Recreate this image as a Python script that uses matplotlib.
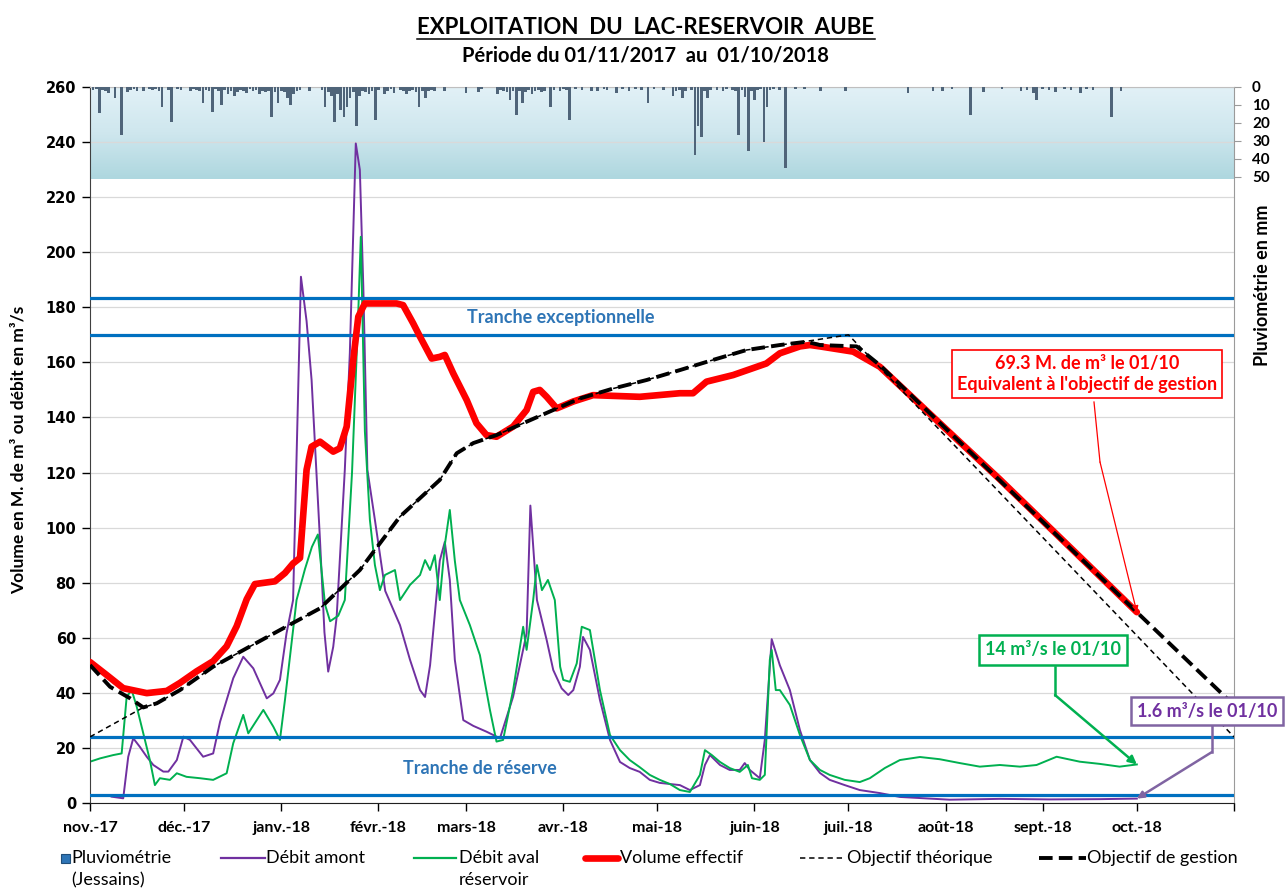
import numpy as np
import pandas as pd
import matplotlib
matplotlib.use("Agg")
import matplotlib.pyplot as plt
from matplotlib.lines import Line2D
from matplotlib.patches import Rectangle
from matplotlib.colors import LinearSegmentedColormap
import matplotlib.dates as mdates

plt.rcParams['font.family'] = ['Lato', 'DejaVu Sans']

debut = pd.Timestamp("2017-11-01")
fin = pd.Timestamp("2018-11-01")

# valeurs au 01/10 (jour 334)
volume_01_10 = 69.3
aval_01_10 = 14
amont_01_10 = 1.6

mois_labels = ["nov.-17", "déc.-17", "janv.-18", "févr.-18", "mars-18", "avr.-18",
               "mai-18", "juin-18", "juil.-18", "août-18", "sept.-18", "oct.-18", ""]

# tranches (M. de m3)
tranches = [183.5, 170, 24, 3]

# pluviometrie Jessains (jour depuis le 01/11/2017, mm), une ligne par mois
pluie_jours = [1, 2, 3, 4, 5, 6, 8, 10, 12, 13, 14, 15, 17, 19, 20, 21, 22, 23, 25, 26, 28, 29,
               32, 33, 34, 35, 36, 37, 38, 39, 40, 41, 42, 43, 44, 45, 46, 47, 48, 49, 50, 51, 52, 53, 54, 55, 56, 57, 58, 59, 60,
               61, 62, 63, 64, 65, 66, 67, 70, 74, 75, 76, 77, 78, 79, 80, 81, 82, 83, 84, 85, 86, 87, 88, 89, 90, 91,
               92, 94, 95, 96, 97, 99, 100, 101, 102, 103, 104, 105, 106, 107, 108, 109, 110, 113,
               120, 124, 125, 130, 131, 132, 133, 134, 135, 136, 137, 138, 139, 140, 141, 142, 143, 144, 145, 147, 148, 150,
               151, 152, 153, 155, 157, 160, 162, 164, 165, 168, 170, 172, 174, 176, 178, 180,
               183, 186, 187, 188, 189, 190, 192, 193, 194, 195, 196, 197, 198, 200, 202, 203, 205, 206, 207, 208, 209, 210, 211,
               212, 213, 214, 215, 216, 217, 218, 220, 222, 225, 228, 233, 241,
               261, 269, 272,
               275, 281, 285, 291, 297, 299, 301, 302,
               304, 306, 308, 311, 313, 316, 318, 320, 326, 329]
pluie_mm = [1.5, 1, 14.7, 1.5, 2, 3.5, 6, 26.8, 3, 1.5, 1, 2, 2, 1, 1.5, 1, 2, 11, 1.5, 19.4, 1, 1.5,
            2, 1, 1.5, 2, 9, 1.5, 2, 13.8, 1, 2.5, 10, 1.5, 4, 2, 5, 3, 1.5, 2, 3.5, 1, 2, 1.5, 4, 2, 3, 2.5, 16.6, 3, 8.7,
            2, 3, 6, 10, 4, 2, 1.5, 2, 1.5, 11, 3, 5, 19.4, 4, 13, 16.6, 11, 6, 3, 22, 5, 2, 3, 4, 2.5, 18.4,
            1.5, 4, 2, 1, 3.5, 1.5, 2, 4, 2, 1.5, 3, 11, 2, 6, 2.5, 1.5, 2, 2,
            3.5, 3, 1, 4, 1.5, 2, 3, 7, 2, 15.6, 2.5, 9, 3, 1.5, 4, 2, 1.5, 3, 2, 11, 1.5, 2,
            1, 1.5, 18.4, 1, 1.5, 2, 2, 1, 1.5, 3.5, 1, 2, 1, 1.5, 9, 1,
            1.5, 5, 2, 1.5, 6, 2, 1.5, 38, 22, 27.7, 2, 6, 1.5, 1.5, 2, 1, 1.5, 2, 26.8, 1.5, 5.8, 36, 2,
            7, 1.5, 1, 30.5, 11, 1.5, 1, 1.5, 45.4, 1, 1, 2, 2,
            3.5, 2, 2,
            1, 15.6, 3, 1, 2, 1.5, 3.5, 7.4,
            1, 1.5, 3, 1, 1.5, 3.5, 1, 1.5, 16.6, 2]

# debit amont (m3/s)
amont_jours = [6.9, 10.6, 12.2, 13.8, 15.9, 18.1, 20.2, 23.4, 25, 27.7, 29.8, 31.9, 36.1, 39.3,
               41.5, 43.6, 45.7, 48.9, 52.1, 56.4, 58.5, 60.6, 62.7, 64.8, 67.3, 69.1, 70.7,
               73.4, 74.8, 76, 77.6, 78.7, 81.3, 82.9, 84.8, 86.1, 87.2, 88.5, 90.9, 94.2,
               98.9, 102.1, 105.3, 106.9, 108.5, 111.6, 113.2, 114.8, 116.4, 119.1, 122.3,
               126.5, 130.8, 135, 139.3, 140.5, 142.6, 145.7, 147.8, 150.5, 152.6, 154.2,
               156.3, 157.3, 159.5, 162.7, 165.9, 169.1, 172.2, 175.4, 178.6, 181.8, 188.2,
               191.4, 194.6, 196.2, 197.8, 201, 204.1, 207.3, 208.9, 210.5, 213.7, 215.3,
               217.5, 220.1, 223.3, 226.5, 229.7, 232.9, 236, 240.8, 245.6, 252, 258.4,
               274.3, 290.3, 306.2, 322.2, 334]
amont_debit = [2.3, 1.7, 16.8, 23.5, 20.4, 16.8, 13.8, 11.4, 11.4, 15.6, 24.1, 22.9, 16.8, 18,
               29.5, 37.4, 45.3, 53.1, 48.9, 38, 39.8, 44.7, 61.6, 73.7, 191.1, 175, 153.6,
               95, 62, 47.7, 56.7, 67.6, 121, 163.3, 239.5, 229.9, 187.5, 121, 102.8, 77,
               64.6, 52, 41, 38.5, 50, 88, 94.8, 81, 52, 30.1, 28,
               25.9, 23.5, 38.6, 61.6, 108, 73.7, 59.2, 48.3, 41.6, 39.2, 41,
               49.5, 60.3, 55.6, 37.4, 22.9, 14.9, 12.7, 11.3, 8.4, 7.3, 6.5,
               4.7, 6.5, 13.8, 17.4, 13.8, 12, 12, 14.5, 12, 9, 22.9,
               59.5, 50, 41, 26.5, 15.6, 10.9, 8.4, 6.5, 4.7, 3.6, 2.2,
               1.2, 1.5, 1.3, 1.4, amont_01_10]

# debit aval reservoir (m3/s)
aval_jours = [0, 3.2, 7.4, 10.1, 11.7, 13.3, 14.9, 17, 19.1, 20.7, 22.3, 25.5, 27.7, 30.8, 35.1,
              39.3, 43.6, 45.7, 48.9, 50.5, 55.3, 58.5, 60.6, 62.2, 63.8, 65.9, 68.6, 70.8,
              72.7, 75, 76.6, 79.2, 81.3, 83.6, 85.5, 86.4, 87.7, 89.3, 90.9, 92.5, 94.1,
              97.3, 98.9, 102.1, 105.3, 106.9, 108.5, 110, 111.6, 113.2, 114.8, 116.4, 118,
              121.2, 124.4, 127.6, 129.7, 131.8, 135, 138.2, 139.3, 141.4, 142.6, 144.2,
              146.1, 148.3, 150, 151, 153.1, 155.3, 156.9, 159.5, 162.7, 165.9, 169.1,
              172.2, 175.4, 178.6, 181.8, 185, 188.2, 191.4, 194.6, 196.2, 198.4, 201,
              204.1, 207.3, 209.9, 211.2, 213.7, 215.3, 216.9, 217.5, 218.8, 220.1, 223.3,
              226.5, 229.7, 232.9, 236, 240.8, 245.6, 248.8, 253.6, 258.4, 264.8, 271.1,
              277.5, 283.9, 290.3, 296.7, 302, 308.4, 315.8, 322.2, 328.5, 334]
aval_debit = [15, 16.2, 17.4, 18, 38.6, 41, 35, 25.3, 15.6, 6.5, 9, 8.4, 10.8, 9.5, 9,
              8.4, 10.8, 21.7, 32, 25.3, 33.8, 27.7, 22.9, 37.4, 53.1, 73.7, 85, 93,
              97.5, 72, 66, 68, 73.7, 120, 175, 205.6, 135, 102.8, 86.4, 77.3, 82.8,
              84.6, 73.7, 79.2, 82.8, 88.2, 84.6, 90, 73.7, 93.7, 106.4, 88, 73.7,
              64.6, 53.7, 33.8, 22.3, 22.9, 41, 64, 55.6, 73.7, 86.4, 77.3,
              81, 73.7, 49.5, 44.7, 44, 50.7, 64, 62.8, 41, 24.7, 19.2,
              15.6, 13, 10.2, 8.4, 6.9, 4.7, 4, 10.2, 19.2, 17.4, 14.9,
              12.7, 11.3, 13.8, 9, 8.4, 10.2, 52, 55.6, 41, 41, 35.6,
              24.7, 15.6, 12, 10.2, 8.4, 7.6, 9, 12.7, 15.6, 16.7, 15.9,
              14.5, 13.2, 13.8, 13.2, 13.8, 16.8, 15, 14.2, 13.2, aval_01_10]

# volume effectif (M. de m3)
volume_jours = [0, 5.3, 10.6, 18.1, 24.5, 28.7, 34, 39.3, 43.6, 46.8, 50, 52.6, 55.8, 59, 62.2,
                64.8, 67, 69.1, 70.7, 73.4, 77.6, 79.7, 81.9, 84, 85.6, 87.7, 97.8, 99.9,
                103.1, 105.3, 109, 111.6, 113.2, 115.9, 120.2, 123.3, 126.5, 129.7, 135,
                139.3, 141.4, 143.5, 145.7, 148.9, 154.2, 160.5, 175.4, 188.2, 192.4, 196.7,
                205.2, 215.8, 220.1, 226.5, 229.7, 232.9, 243.5, 252, 274.3, 290.3, 303,
                318, 334]
volume_effectif = [51.2, 46.5, 41.7, 39.9, 40.7, 43.6, 47.8, 51.5, 56.9, 64.2, 74, 79.5, 80,
                   80.5, 83.5, 87, 89, 121, 129.4, 131.2, 127.6, 128.8, 136.7, 160.9, 176.6,
                   181.4, 181.4, 180.8, 174.2, 169.3, 161.4, 162, 162.7, 156, 146.3, 137.9,
                   133.6, 133, 136.7, 142.7, 149.3, 150, 147.5, 143.3, 145.8, 148.1, 147.5,
                   148.8, 148.8, 153, 155.4, 159.6, 163.3, 165.8, 166.3, 165.8, 163.9, 158.4,
                   134.5, 117.5, 103.5, 87, volume_01_10]

# objectif de gestion (M. de m3)
gestion_jours = [0, 6.4, 12.8, 17, 21.3, 28.7, 39.3, 50, 60.6, 73.4, 86.1, 98.9, 111.6, 117,
                 122.3, 129.7, 138.2, 147.8, 156.3, 166.9, 177.6, 188.2, 198.8, 209.5, 220.1,
                 228.6, 232.9, 244.6, 252, 334, 365]
objectif_gestion = [50.1, 42.2, 38, 34.7, 36.2, 41, 49.5, 56.2, 62.8, 70.7, 84.6, 104, 117.3,
                    127, 130.7, 133.6, 137.9, 142.7, 146.9, 150.5, 153.6, 157.2, 160.9, 164.5,
                    166.3, 167.5, 166.3, 165.8, 159, 69.3, 35.5]

# objectif theorique (M. de m3)
theorique_jours = [0, 17, 21.3, 28.7, 39.3, 50, 60.6, 73.4, 86.1, 98.9, 111.6, 117, 122.3, 129.7,
                   138.2, 147.8, 156.3, 166.9, 177.6, 188.2, 198.8, 209.5, 220.1, 230.6, 242, 365]
objectif_theorique = [24, 34.7, 36.2, 41, 49.5, 56.2, 62.8, 70.7, 84.6, 104, 117.3, 127, 130.7,
                      133.6, 137.9, 142.7, 146.9, 150.5, 153.6, 157.2, 160.9, 164.5, 166.3, 168,
                      170, 24]


def dates(j):
    return debut + pd.to_timedelta(np.asarray(j, dtype=float), unit="D")


W, H = 1287, 889
fig = plt.figure(figsize=(W / 100, H / 100), dpi=100)


def fx(x):
    return x / W


def fy(y):
    return 1 - y / H


ax = fig.add_axes([fx(90), fy(803), 1144 / W, 716 / H])

# bandeau pluviometrie (degrade)
band_bas = 226.5
grad = np.linspace(0, 1, 100).reshape(-1, 1)
cmap_band = LinearSegmentedColormap.from_list("band", ["#aed7df", "#cfe7ee", "#e2f1f7"])
ax.imshow(grad, extent=[mdates.date2num(debut), mdates.date2num(fin), band_bas, 260],
          aspect="auto", cmap=cmap_band, origin="lower", zorder=0)
ax.set_xlim(debut, fin)
ax.set_ylim(0, 260)

ax.set_yticks(np.arange(0, 261, 20))
ax.yaxis.grid(True, color="#d9d9d9", lw=0.9)
ax.set_axisbelow(True)

for v in tranches:
    ax.axhline(v, color="#0070c0", lw=2.3, zorder=3)

ax.plot(dates(amont_jours), amont_debit, color="#7030a0", lw=1.4, zorder=2)
ax.plot(dates(aval_jours), aval_debit, color="#00b050", lw=1.4, zorder=2)
ax.plot(dates(volume_jours), volume_effectif, color="#ff0000", lw=4.8, zorder=4,
        solid_capstyle="round", solid_joinstyle="round")
ax.plot(dates(theorique_jours), objectif_theorique, color="black", lw=1.1,
        dashes=(3.5, 2.5), zorder=5)
ax.plot(dates(gestion_jours), objectif_gestion, color="black", lw=2.8,
        dashes=(3.5, 1.6), zorder=6)


def af(x, y):
    return ((x - 90) / 1144, (803 - y) / 716)


ax.text(*af(561, 317), "Tranche exceptionnelle", transform=ax.transAxes,
        ha="center", va="center", color="#2e75b6", fontsize=13, fontweight="bold")
ax.text(*af(480, 768), "Tranche de réserve", transform=ax.transAxes,
        ha="center", va="center", color="#2e75b6", fontsize=13, fontweight="bold")

# axes
mois = pd.date_range(debut, fin, freq="MS")
ax.set_xticks(mois)
ax.set_xticklabels(mois_labels)
ax.tick_params(axis="x", direction="out", length=6, width=1, pad=7, labelsize=11.5)
ax.tick_params(axis="y", direction="out", length=6, width=1, pad=4, labelsize=10.5)
for lab in ax.get_xticklabels():
    lab.set_fontweight("bold")
for lab in ax.get_yticklabels():
    lab.set_fontweight("bold")
    lab.set_family("DejaVu Sans")
ax.spines["top"].set_color("#bfbfbf")
ax.spines["right"].set_color("#9a9a9a")
ax.spines["left"].set_color("#404040")
ax.spines["bottom"].set_color("#202020")

# axe pluviometrie
axp = fig.add_axes([fx(90), fy(178.5), 1144 / W, 91.5 / H])
axp.patch.set_alpha(0)
axp.set_xlim(debut, fin)
axp.set_ylim(51.1, 0)
axp.bar(dates(pluie_jours), pluie_mm, width=0.85, color="#4f6479", zorder=2)
for s in axp.spines.values():
    s.set_visible(False)
axp.set_xticks([])
axp.yaxis.tick_right()
axp.set_yticks(np.arange(0, 51, 10))
axp.tick_params(axis="y", direction="out", length=5, color="#9a9a9a", pad=8, labelsize=11)
for lab in axp.get_yticklabels():
    lab.set_fontweight("bold")

fig.text(fx(19), fy(450), "Volume en M. de m³ ou débit en m³/s", rotation=90,
         ha="center", va="center", fontsize=12.5, fontweight="bold")
fig.text(fx(1262), fy(285), "Pluviométrie en mm", rotation=90,
         ha="center", va="center", fontsize=13, fontweight="bold")

titre = fig.text(fx(646), fy(27), "EXPLOITATION  DU  LAC-RESERVOIR  AUBE",
                 ha="center", va="center", fontsize=16, fontweight="bold")
fig.text(fx(645), fy(55), "Période du 01/11/2017  au  01/10/2018",
         ha="center", va="center", fontsize=14.5, fontweight="bold")

oct1 = debut + pd.Timedelta(days=334)

# etiquettes du 01/10
ax.text(*af(1087, 374), f"{volume_01_10} M. de m³ le 01/10\nEquivalent à l'objectif de gestion",
        transform=ax.transAxes, ha="center", va="center", color="#ff0000", fontsize=13,
        fontweight="bold", linespacing=1.25, zorder=10,
        bbox=dict(boxstyle="square,pad=0.3", fc="white", ec="#ff0000", lw=1.2))
ax.plot(*zip(af(1094, 402), af(1100, 462)), transform=ax.transAxes, color="#ff0000",
        lw=0.9, zorder=9, clip_on=False)
ax.annotate("", xy=(oct1, volume_01_10), xycoords="data", xytext=af(1100, 462),
            textcoords="axes fraction",
            arrowprops=dict(arrowstyle="-|>", color="#ff0000", lw=0.9, mutation_scale=9,
                            shrinkA=0, shrinkB=0), zorder=9)

ax.text(*af(1053, 650), f"{aval_01_10} m³/s le 01/10", transform=ax.transAxes,
        ha="center", va="center", color="#00b050", fontsize=13, fontweight="bold", zorder=10,
        bbox=dict(boxstyle="square,pad=0.35", fc="white", ec="#00b050", lw=1.8))
ax.plot(*zip(af(1055, 667), af(1055, 695)), transform=ax.transAxes, color="#00b050",
        lw=1.8, zorder=9, clip_on=False)
ax.annotate("", xy=(oct1, aval_01_10), xycoords="data", xytext=af(1055, 695),
            textcoords="axes fraction",
            arrowprops=dict(arrowstyle="-|>", color="#00b050", lw=1.8, mutation_scale=12,
                            shrinkA=0, shrinkB=0), zorder=9)

ax.text(*af(1207, 711), f"{amont_01_10} m³/s le 01/10", transform=ax.transAxes,
        ha="center", va="center", color="#7030a0", fontsize=13, fontweight="bold", zorder=10,
        clip_on=False,
        bbox=dict(boxstyle="square,pad=0.3", fc="white", ec="#8064a2", lw=1.8))
ax.plot(*zip(af(1212, 726), af(1212, 752)), transform=ax.transAxes, color="#8064a2",
        lw=1.8, zorder=9, clip_on=False)
ax.annotate("", xy=(oct1, amont_01_10), xycoords="data", xytext=af(1212, 752),
            textcoords="axes fraction",
            arrowprops=dict(arrowstyle="-|>", color="#8064a2", lw=1.8, mutation_scale=10,
                            shrinkA=0, shrinkB=0), zorder=9, annotation_clip=False)

# legende
ly = 858
leg_kw = dict(fontsize=13, va="center", ha="left")
fig.add_artist(Rectangle((fx(61), fy(863)), 9 / W, 9 / H, transform=fig.transFigure,
                         fc="#2e75b6", ec="#1f4e79", lw=0.8))
fig.text(fx(71), fy(ly), "Pluviométrie", **leg_kw)
fig.text(fx(71), fy(880), "(Jessains)", **leg_kw)
fig.add_artist(Line2D([fx(221), fx(265)], [fy(ly), fy(ly)], color="#7030a0", lw=1.6))
fig.text(fx(266), fy(ly), "Débit amont", **leg_kw)
fig.add_artist(Line2D([fx(414), fx(456)], [fy(ly), fy(ly)], color="#00b050", lw=1.6))
fig.text(fx(459), fy(ly), "Débit aval", **leg_kw)
fig.text(fx(459), fy(880), "réservoir", **leg_kw)
fig.add_artist(Line2D([fx(585), fx(618)], [fy(ly), fy(ly)], color="#ff0000", lw=4.8,
                      solid_capstyle="round"))
fig.text(fx(620), fy(ly), "Volume effectif", **leg_kw)
fig.add_artist(Line2D([fx(800), fx(845)], [fy(ly), fy(ly)], color="black", lw=1.1,
                      dashes=(3.5, 2.5)))
fig.text(fx(847), fy(ly), "Objectif théorique", **leg_kw)
fig.add_artist(Line2D([fx(1039), fx(1086)], [fy(ly), fy(ly)], color="black", lw=2.8,
                      dashes=(3.5, 1.6)))
fig.text(fx(1087), fy(ly), "Objectif de gestion", **leg_kw)

# soulignement du titre
fig.canvas.draw()
bb = titre.get_window_extent()
fig.add_artist(Line2D([bb.x0 / W, bb.x1 / W], [(bb.y0 - 1.5) / H] * 2, color="black", lw=1.1))

fig.savefig("out.png", dpi=100)
